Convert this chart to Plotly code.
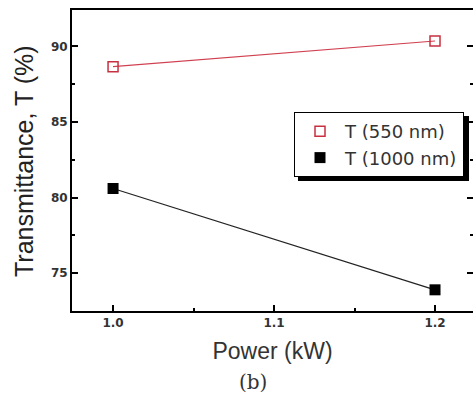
import plotly.graph_objects as go

power = [1.0, 1.2]
t550 = [88.65, 90.35]
t1000 = [80.6, 73.9]

x_ticks = [1.0, 1.1, 1.2]
y_ticks = [75, 80, 85, 90]

L, T, W, H = 72, 10, 401, 301

def px(x):
    return (x - L) / W

def py(y):
    return 1 - (y - T) / H

fig = go.Figure()
fig.add_trace(go.Scatter(x=power, y=t550, mode="lines", line=dict(color="#d04050", width=1.2),
                         showlegend=False, hoverinfo="skip"))
fig.add_trace(go.Scatter(x=power, y=t1000, mode="lines", line=dict(color="#222222", width=1.2, shape="spline"),
                         showlegend=False, hoverinfo="skip"))
fig.add_trace(go.Scatter(x=power, y=t550, mode="markers", name="T (550 nm)",
                         marker=dict(symbol="square-open", size=10, color="#c83040", line=dict(width=1.5))))
fig.add_trace(go.Scatter(x=power, y=t1000, mode="markers", name="T (1000 nm)",
                         marker=dict(symbol="square", size=11, color="black")))

# legend box geometry (px) and drop shadow
LX0, LY0 = 294, 112
SX0, SY0, SX1, SY1 = 298, 116, 469, 181
fig.add_shape(type="rect", xref="paper", yref="paper",
              x0=px(SX0), x1=px(SX1), y0=py(SY1), y1=py(SY0),
              fillcolor="black", line=dict(width=0), layer="above")

tickfont = dict(size=12, color="#333333", family="DejaVu Sans")

fig.update_layout(
    width=473, height=393,
    margin=dict(l=L, r=0, t=T, b=393 - T - H, autoexpand=False),
    paper_bgcolor="white", plot_bgcolor="white",
    font=dict(family="Liberation Sans, Arial", color="#333333"),
    xaxis=dict(range=[0.9745, 1.2236], tickvals=x_ticks, ticktext=["<b>1.0</b>", "<b>1.1</b>", "<b>1.2</b>"],
               ticks="inside", ticklen=6, tickwidth=2, tickcolor="black", automargin=False,
               showline=True, linecolor="black", linewidth=2, mirror=True, showgrid=False, zeroline=False,
               minor=dict(tickvals=[1.05, 1.15], ticks="inside", ticklen=3, tickwidth=1.5, tickcolor="black"),
               tickfont=tickfont,
               title=dict(text="Power (kW)", font=dict(size=23, color="#333333"), standoff=13)),
    yaxis=dict(range=[72.5, 92.4], tickvals=y_ticks, ticktext=["<b>75</b>", "<b>80</b>", "<b>85</b>", "<b>90</b>"],
               ticks="inside", ticklen=6, tickwidth=2, tickcolor="black", automargin=False,
               showline=True, linecolor="black", linewidth=2, mirror="ticks", showgrid=False, zeroline=False,
               minor=dict(tickvals=[77.5, 82.5, 87.5], ticks="inside", ticklen=3, tickwidth=1.5, tickcolor="black"),
               tickfont=tickfont),
    legend=dict(x=px(LX0), y=py(LY0), xanchor="left", yanchor="top",
                bgcolor="white", bordercolor="black", borderwidth=1,
                font=dict(size=18, color="#333333", family="DejaVu Sans"), itemwidth=40, tracegroupgap=0),
    annotations=[
        dict(text="Transmittance, T (%)", xref="paper", yref="paper", x=px(24), y=py(161),
             xanchor="center", yanchor="middle", textangle=-90, showarrow=False,
             font=dict(size=25, color="#222222")),
        dict(text="(b)", xref="paper", yref="paper", x=px(253), y=py(382),
             xanchor="center", yanchor="middle", showarrow=False,
             font=dict(size=20, family="DejaVu Serif", color="#333333")),
    ],
)

fig.write_html("out.html", config={"displayModeBar": False},
               post_script="document.body.style.margin='0';document.body.style.overflow='hidden';")
